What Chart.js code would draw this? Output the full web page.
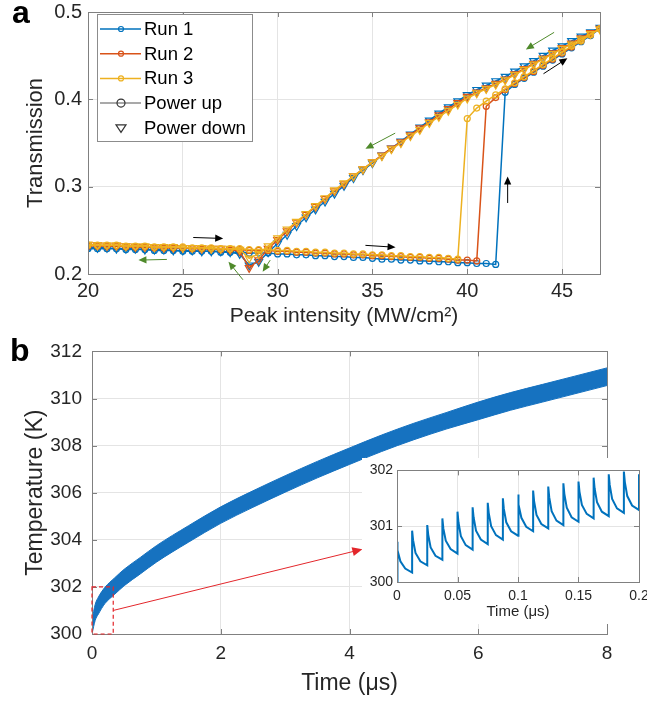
<!DOCTYPE html>
<html>
<head>
<meta charset="utf-8">
<script src="https://cdn.jsdelivr.net/npm/chart.js@4.4.1/dist/chart.umd.min.js"></script>
<style>
  html, body { margin: 0; padding: 0; background: #fff; overflow: hidden; }
  #wrap { position: relative; width: 647px; height: 704px; overflow: hidden; }
  canvas { position: absolute; }
  #chartA { left: 0; top: -6px; }
  #chartB { left: 0; top: 330px; }
  #chartInset { left: 362px; top: 458px; background: #fff; }
  .tag { position: absolute; font: bold 32px "Liberation Sans", Arial, sans-serif; line-height: 32px; color: #000; }
</style>
</head>
<body>
<div id="wrap">
  <canvas id="chartA" width="647" height="336"></canvas>
  <canvas id="chartB" width="647" height="374"></canvas>
  <canvas id="chartInset" width="300" height="166"></canvas>
  <div class="tag" style="left:12px; top:-4px;">a</div>
  <div class="tag" style="left:10px; top:334px;">b</div>
</div>
<script>
// ---- Panel a: transmission vs peak intensity (MW/cm2) ----
const intensity = [20, 20.5, 21, 21.5, 22, 22.5, 23, 23.5, 24, 24.5, 25, 25.5, 26, 26.5, 27, 27.5, 28, 28.5, 29, 29.5,
    30, 30.5, 31, 31.5, 32, 32.5, 33, 33.5, 34, 34.5, 35, 35.5, 36, 36.5, 37, 37.5, 38, 38.5, 39, 39.5,
    40, 40.5, 41, 41.5, 42, 42.5, 43, 43.5, 44, 44.5, 45, 45.5, 46, 46.5, 47];

// power up (circles)
const run1Up = [.229, .229, .229, .229, .228, .228, .228, .227, .227, .227, .226, .226, .226, .226, .225, .225, .225, .224, .224, .224,
    .223, .223, .222, .222, .221, .221, .220, .220, .219, .219, .218, .217, .217, .216, .216, .215, .215, .214, .214, .213,
    .213, .212, .212, .211, .408, .417, .424, .431, .438, .445, .452, .459, .466, .473, .481];
const run2Up = [.232, .232, .232, .232, .231, .231, .231, .230, .230, .230, .230, .229, .229, .229, .228, .228, .228, .227, .227, .227,
    .226, .226, .225, .225, .224, .224, .223, .223, .222, .222, .221, .221, .220, .220, .219, .219, .218, .218, .217, .216,
    .216, .215, .392, .402, .411, .418, .425, .432, .439, .446, .453, .460, .467, .474, .481];
const run3Up = [.233, .233, .233, .233, .232, .232, .232, .231, .231, .231, .231, .230, .230, .230, .229, .229, .229, .228, .228, .228,
    .227, .227, .226, .226, .225, .225, .224, .224, .223, .223, .222, .222, .221, .221, .220, .220, .219, .219, .218, .217,
    .378, .390, .398, .405, .412, .419, .426, .433, .440, .447, .454, .461, .467, .474, .481];

// power down (triangles)
const run1Down = [.230, .230, .230, .229, .229, .229, .228, .228, .228, .227, .227, .227, .226, .226, .226, .225, .223, .210, .214, .225,
    .235, .245, .255, .265, .274, .283, .292, .301, .310, .319, .327, .336, .344, .352, .360, .368, .376, .384, .391, .398,
    .405, .411, .416, .421, .426, .432, .438, .444, .450, .456, .461, .467, .472, .477, .482];
const run2Down = [.233, .233, .232, .232, .232, .231, .231, .231, .230, .230, .230, .230, .229, .229, .229, .228, .226, .207, .216, .229,
    .239, .249, .259, .268, .277, .286, .295, .303, .312, .320, .328, .336, .344, .351, .359, .367, .374, .382, .389, .396,
    .403, .408, .413, .418, .423, .429, .435, .441, .447, .453, .459, .464, .470, .476, .481];
const run3Down = [.234, .233, .233, .233, .232, .232, .232, .231, .231, .231, .230, .230, .230, .229, .229, .229, .228, .218, .223, .232,
    .241, .251, .260, .269, .278, .287, .296, .304, .312, .320, .328, .335, .343, .350, .358, .365, .373, .380, .387, .394,
    .401, .407, .412, .417, .422, .428, .434, .440, .446, .452, .458, .463, .469, .475, .480];

// arrows [x1, y1, x2, y2] in data units
const blackArrows = [[25.55, 0.2418, 27.13, 0.2407], [34.63, 0.2328, 36.22, 0.2306], [42.13, 0.2813, 42.13, 0.3117], [44.02, 0.4293, 45.28, 0.447]];
const greenArrows = [[44.58, 0.4767, 43.09, 0.4572], [36.2, 0.3613, 34.63, 0.3433], [24.16, 0.2167, 22.66, 0.2159],
    [28.17, 0.1934, 27.41, 0.214], [29.61, 0.2159, 29.21, 0.2027]];

// ---- Panel b: temperature vs time (us) ----
const bandTime  = [0, 0.05, 0.1, 0.2, 0.35, 0.5, 0.75, 1, 1.5, 2, 2.5, 3, 3.5, 4, 4.5, 5, 5.5, 6, 6.5, 7, 7.5, 8];
const bandUpper = [300.6, 301.26, 301.57, 301.98, 302.38, 302.75, 303.25, 303.75, 304.6, 305.4, 306.08, 306.72, 307.33, 307.9, 308.45, 308.95, 309.4, 309.85, 310.25, 310.6, 310.95, 311.3];
const bandLower = [300.0, 300.58, 300.85, 301.29, 301.68, 302.05, 302.55, 303.05, 303.9, 304.7, 305.38, 306.02, 306.63, 307.2, 307.75, 308.25, 308.7, 309.1, 309.5, 309.85, 310.2, 310.55];
const zoomBox = [0, 300, 0.33, 302];
const zoomArrow = [0.33, 301.0, 4.2, 303.6];

// inset: one pulse every 12.5 ns
const pulseTime   = [0, 0.0125, 0.025, 0.0375, 0.05, 0.0625, 0.075, 0.0875, 0.1, 0.1125, 0.125, 0.1375, 0.15, 0.1625, 0.175, 0.1875, 0.2];
const pulsePeak   = [300.72, 300.92, 301.02, 301.14, 301.26, 301.34, 301.42, 301.50, 301.57, 301.64, 301.71, 301.77, 301.80, 301.87, 301.93, 301.98, 301.93];
const decayOffsets = [0.0008, 0.0028, 0.0068];
const decayA      = [300.57, 300.75, 300.85, 300.96, 301.07, 301.16, 301.24, 301.31, 301.39, 301.45, 301.52, 301.58, 301.62, 301.68, 301.74, 301.79];
const decayB      = [300.37, 300.52, 300.62, 300.74, 300.82, 300.92, 301.00, 301.07, 301.15, 301.20, 301.27, 301.33, 301.38, 301.43, 301.49, 301.54];
const decayC      = [300.24, 300.37, 300.47, 300.59, 300.66, 300.76, 300.84, 300.91, 300.99, 301.04, 301.10, 301.16, 301.22, 301.26, 301.32, 301.37];
const pulseTrough = [300.17, 300.30, 300.40, 300.51, 300.58, 300.68, 300.76, 300.83, 300.91, 300.96, 301.02, 301.08, 301.14, 301.18, 301.24, 301.29];

const BLUE = '#0072BD', ORANGE = '#D95319', YELLOW = '#EDB120';
const GRID = '#e4e4e4', AXIS = '#808080', TXT = '#262626';

Chart.defaults.font.family = '"Liberation Sans", Arial, sans-serif';
Chart.defaults.color = TXT;
Chart.defaults.animation = false;

function pts(xs, ys) {
    return xs.map((x, i) => ({ x: x, y: ys[i] }));
}

function drawArrow(ctx, x1, y1, x2, y2, color, head) {
    const ang = Math.atan2(y2 - y1, x2 - x1);
    const c = Math.cos(ang), s = Math.sin(ang);
    ctx.save();
    ctx.strokeStyle = color;
    ctx.fillStyle = color;
    ctx.lineWidth = 1;
    ctx.beginPath();
    ctx.moveTo(x1, y1);
    ctx.lineTo(x2 - c * head * 0.8, y2 - s * head * 0.8);
    ctx.stroke();
    ctx.beginPath();
    ctx.moveTo(x2, y2);
    ctx.lineTo(x2 - head * c + head * 0.45 * s, y2 - head * s - head * 0.45 * c);
    ctx.lineTo(x2 - head * c - head * 0.45 * s, y2 - head * s + head * 0.45 * c);
    ctx.closePath();
    ctx.fill();
    ctx.restore();
}

// box round the axes + inward tick marks (matlab look)
const framePlugin = {
    id: 'frame',
    afterDatasetsDraw(chart) {
        const ctx = chart.ctx, a = chart.chartArea;
        const xs = chart.scales.x, ys = chart.scales.y;
        const len = 5;
        ctx.save();
        ctx.strokeStyle = AXIS;
        ctx.lineWidth = 1;
        ctx.beginPath();
        xs.ticks.forEach(t => {
            const p = Math.round(xs.getPixelForValue(t.value)) + 0.5;
            ctx.moveTo(p, a.bottom); ctx.lineTo(p, a.bottom - len);
            ctx.moveTo(p, a.top); ctx.lineTo(p, a.top + len);
        });
        ys.ticks.forEach(t => {
            const p = Math.round(ys.getPixelForValue(t.value)) + 0.5;
            ctx.moveTo(a.left, p); ctx.lineTo(a.left + len, p);
            ctx.moveTo(a.right, p); ctx.lineTo(a.right - len, p);
        });
        ctx.stroke();
        ctx.strokeRect(Math.round(a.left) + 0.5, Math.round(a.top) + 0.5, Math.round(a.right - a.left), Math.round(a.bottom - a.top));
        ctx.restore();
    }
};

function axisOpts(min, max, step, tickSize, pad, width, height, title, titleSize, titlePad, fmt) {
    const o = {
        type: 'linear',
        min: min,
        max: max,
        border: { display: false },
        grid: { color: GRID, drawTicks: false },
        ticks: { stepSize: step, includeBounds: false, padding: pad, maxRotation: 0, font: { size: tickSize }, color: TXT },
        title: { display: !!title, text: title, font: { size: titleSize }, color: TXT, padding: titlePad }
    };
    if (fmt) o.ticks.callback = fmt;
    o.afterFit = s => {
        if (width) s.width = width;
        if (height) s.height = height;
    };
    return o;
}

// ---------- Panel a ----------
function runSet(label, color, up, down, order) {
    return [{
        label: label + ' up',
        data: pts(intensity, up),
        borderColor: color,
        backgroundColor: 'rgba(0,0,0,0)',
        borderWidth: 1.5,
        pointStyle: 'circle',
        pointRadius: 3,
        pointBorderWidth: 1.2,
        pointBorderColor: color,
        pointBackgroundColor: 'rgba(0,0,0,0)',
        tension: 0,
        order: order
    }, {
        label: label + ' down',
        data: pts(intensity, down),
        borderColor: color,
        backgroundColor: 'rgba(0,0,0,0)',
        borderWidth: 1.5,
        pointStyle: 'triangle',
        pointRotation: 180,
        pointRadius: 4.5,
        pointBorderWidth: 1.2,
        pointBorderColor: color,
        pointBackgroundColor: 'rgba(0,0,0,0)',
        tension: 0,
        order: order
    }];
}

const legendItems = [
    { text: 'Run 1', color: BLUE, line: true, marker: 'circle', r: 2.5 },
    { text: 'Run 2', color: ORANGE, line: true, marker: 'circle', r: 2.5 },
    { text: 'Run 3', color: YELLOW, line: true, marker: 'circle', r: 2.5 },
    { text: 'Power up', color: '#555', line: true, marker: 'circle', r: 4 },
    { text: 'Power down', color: '#555', line: false, marker: 'triangle', r: 5 }
];

const panelAExtras = {
    id: 'panelAExtras',
    afterDatasetsDraw(chart) {
        const ctx = chart.ctx, xs = chart.scales.x, ys = chart.scales.y;
        blackArrows.forEach(a => drawArrow(ctx, xs.getPixelForValue(a[0]), ys.getPixelForValue(a[1]),
            xs.getPixelForValue(a[2]), ys.getPixelForValue(a[3]), '#000', 8));
        greenArrows.forEach(a => drawArrow(ctx, xs.getPixelForValue(a[0]), ys.getPixelForValue(a[1]),
            xs.getPixelForValue(a[2]), ys.getPixelForValue(a[3]), '#4f8a2b', 8));
    },
    afterDraw(chart) {
        // legend box
        const ctx = chart.ctx;
        const bx = 97, by = 20, bw = 155, bh = 127;
        ctx.save();
        ctx.fillStyle = '#fff';
        ctx.fillRect(bx, by, bw, bh);
        ctx.strokeStyle = '#8c8c8c';
        ctx.lineWidth = 1;
        ctx.strokeRect(bx + 0.5, by + 0.5, bw, bh);
        ctx.font = '18.5px "Liberation Sans", Arial, sans-serif';
        ctx.textBaseline = 'middle';
        legendItems.forEach((it, i) => {
            const y = by + 15 + i * 24.7;
            if (it.line) {
                ctx.strokeStyle = it.color === '#555' ? '#8c8c8c' : it.color;
                ctx.lineWidth = 1.5;
                ctx.beginPath(); ctx.moveTo(bx + 3, y); ctx.lineTo(bx + 44, y); ctx.stroke();
            }
            ctx.strokeStyle = it.color === '#555' ? '#333' : it.color;
            ctx.lineWidth = 1.2;
            ctx.beginPath();
            const mx = bx + 24;
            if (it.marker === 'circle') {
                ctx.arc(mx, y, it.r, 0, Math.PI * 2);
            } else {
                ctx.moveTo(mx - it.r, y - it.r * 0.6);
                ctx.lineTo(mx + it.r, y - it.r * 0.6);
                ctx.lineTo(mx, y + it.r * 0.9);
                ctx.closePath();
            }
            ctx.stroke();
            ctx.fillStyle = '#000';
            ctx.fillText(it.text, bx + 47, y + 1);
        });
        ctx.restore();
    }
};

new Chart(document.getElementById('chartA').getContext('2d'), {
    type: 'line',
    data: {
        datasets: [].concat(
            runSet('Run 3', YELLOW, run3Up, run3Down, 0),
            runSet('Run 2', ORANGE, run2Up, run2Down, 1),
            runSet('Run 1', BLUE, run1Up, run1Down, 2)
        )
    },
    options: {
        responsive: false,
        layout: { padding: { left: 0, right: 47, top: 14, bottom: 0 } },
        scales: {
            x: axisOpts(20, 47, 5, 20, 5, null, 56, 'Peak intensity (MW/cm²)', 21, { top: 0, bottom: 1 }),
            y: axisOpts(0.2, 0.5, 0.1, 20, 6, 88, null, 'Transmission', 22, { top: 23, bottom: 0 }, v => v.toFixed(1))
        },
        plugins: { legend: { display: false }, tooltip: { enabled: false } }
    },
    plugins: [framePlugin, panelAExtras]
});

// ---------- Panel b ----------
const panelBExtras = {
    id: 'panelBExtras',
    afterDatasetsDraw(chart) {
        const ctx = chart.ctx, xs = chart.scales.x, ys = chart.scales.y;
        const x0 = xs.getPixelForValue(zoomBox[0]), y0 = ys.getPixelForValue(zoomBox[1]);
        const x1 = xs.getPixelForValue(zoomBox[2]), y1 = ys.getPixelForValue(zoomBox[3]);
        ctx.save();
        ctx.strokeStyle = '#e3262b';
        ctx.lineWidth = 1.2;
        ctx.setLineDash([4, 3]);
        ctx.strokeRect(x0, y1, x1 - x0, y0 - y1);
        ctx.restore();
        drawArrow(ctx, xs.getPixelForValue(zoomArrow[0]), ys.getPixelForValue(zoomArrow[1]),
            xs.getPixelForValue(zoomArrow[2]), ys.getPixelForValue(zoomArrow[3]), '#e3262b', 10);
    }
};

new Chart(document.getElementById('chartB').getContext('2d'), {
    type: 'line',
    data: {
        datasets: [{
            data: pts(bandTime, bandUpper),
            borderColor: '#1672c0',
            backgroundColor: '#1672c0',
            borderWidth: 1,
            pointRadius: 0,
            fill: '+1',
            cubicInterpolationMode: 'monotone'
        }, {
            data: pts(bandTime, bandLower),
            borderColor: '#1672c0',
            borderWidth: 1,
            pointRadius: 0,
            fill: false,
            cubicInterpolationMode: 'monotone'
        }]
    },
    options: {
        responsive: false,
        layout: { padding: { left: 0, right: 40, top: 15, bottom: 0 } },
        scales: {
            x: axisOpts(0, 8, 2, 19, 8, null, 70, 'Time (μs)', 23, { top: 0, bottom: 7 }),
            y: axisOpts(300, 312, 2, 19, 10, 92, null, 'Temperature (K)', 23, { top: 22, bottom: 0 })
        },
        plugins: { legend: { display: false }, tooltip: { enabled: false } }
    },
    plugins: [framePlugin, panelBExtras]
});

// ---------- Inset ----------
const insetPts = [{ x: 0, y: 300 }];
for (let i = 0; i < pulseTrough.length; i++) {
    const t = pulseTime[i];
    insetPts.push({ x: t, y: pulsePeak[i] });
    insetPts.push({ x: t + decayOffsets[0], y: decayA[i] });
    insetPts.push({ x: t + decayOffsets[1], y: decayB[i] });
    insetPts.push({ x: t + decayOffsets[2], y: decayC[i] });
    insetPts.push({ x: pulseTime[i + 1], y: pulseTrough[i] });
}
insetPts.push({ x: pulseTime[pulseTime.length - 1], y: pulsePeak[pulsePeak.length - 1] });

new Chart(document.getElementById('chartInset').getContext('2d'), {
    type: 'line',
    data: {
        datasets: [{
            data: insetPts,
            borderColor: BLUE,
            borderWidth: 2,
            pointRadius: 0,
            fill: false,
            tension: 0
        }]
    },
    options: {
        responsive: false,
        layout: { padding: { left: 0, right: 23, top: 10, bottom: 0 } },
        scales: {
            x: axisOpts(0, 0.2, 0.05, 14, 6, null, 42, 'Time (μs)', 15, { top: 0, bottom: 3 }, v => String(+v.toFixed(2))),
            y: axisOpts(300, 302, 1, 14, 4, 35, null, '', 14, { top: 0, bottom: 0 })
        },
        plugins: { legend: { display: false }, tooltip: { enabled: false } }
    },
    plugins: [framePlugin]
});
</script>
</body>
</html>
